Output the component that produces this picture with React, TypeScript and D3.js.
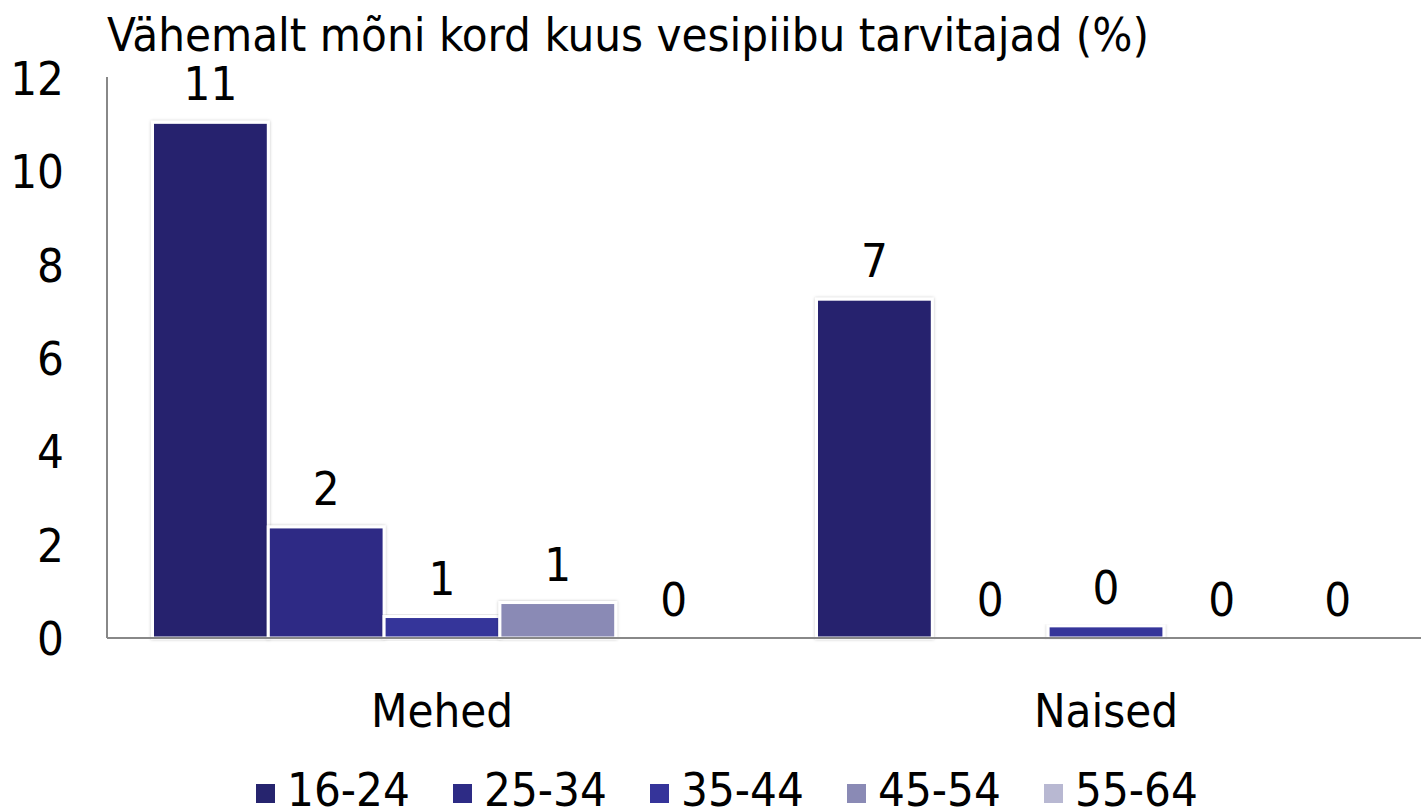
import React from 'react'
import { scaleBand, scaleLinear } from 'd3'

const groups = ['Mehed', 'Naised']
const ages = ['16-24', '25-34', '35-44', '45-54', '55-64']
const colors = ['#26246e', '#2d2b85', '#35349a', '#8a8ab5', '#b8b8d2']
// values per group, in the order of ages
const mehed = [11.05, 2.38, 0.46, 0.76, 0]
const naised = [7.26, 0, 0.26, 0, 0]
const mehedLabels = ['11', '2', '1', '1', '0']
const naisedLabels = ['7', '0', '0', '0', '0']
const yTicks = [0, 2, 4, 6, 8, 10, 12]

const font = '"DejaVu Sans Condensed", "DejaVu Sans", sans-serif'
const fs = 47

export default function App() {
  const W = 1421
  const H = 812
  const y = scaleLinear().domain([0, 12]).range([638, 78])
  const x0 = scaleBand().domain(groups).range([110, 1438])
  const x1 = scaleBand().domain(ages).range([0, x0.bandwidth()]).paddingInner(0).paddingOuter(0.367)

  const data = [
    { g: 'Mehed', vals: mehed, labels: mehedLabels },
    { g: 'Naised', vals: naised, labels: naisedLabels },
  ]

  return (
    <svg width={W} height={H} style={{ position: 'absolute', left: 0, top: 0, background: '#fff' }} fontFamily={font}>
      <defs>
        <filter id="sh" x="-10%" y="-10%" width="120%" height="120%">
          <feDropShadow dx="0" dy="0" stdDeviation="1.5" floodColor="#000" floodOpacity="0.25" />
        </filter>
      </defs>
      <text x={107} y={51} fontSize={fs} fill="#000">Vähemalt mõni kord kuus vesipiibu tarvitajad (%)</text>

      {yTicks.map(t => (
        <text key={t} x={64} y={y(t)} dy="0.36em" textAnchor="end" fontSize={fs} fill="#000">{t}</text>
      ))}

      {data.map(d => (
        <g key={d.g} transform={`translate(${x0(d.g)},0)`}>
          {d.vals.map((v, i) => (
            v > 0 ? (
              <rect key={i} x={x1(ages[i])} y={y(v)} width={x1.bandwidth()} height={y(0) - y(v)}
                fill={colors[i]} stroke="#fff" strokeWidth={3} filter="url(#sh)" />
            ) : null
          ))}
          {d.vals.map((v, i) => (
            <text key={'l' + i} x={(x1(ages[i]) as number) + x1.bandwidth() / 2} y={y(v) - 22}
              textAnchor="middle" fontSize={fs} fill="#000">{d.labels[i]}</text>
          ))}
          <text x={x0.bandwidth() / 2} y={727} textAnchor="middle" fontSize={fs} fill="#000">{d.g}</text>
        </g>
      ))}

      <line x1={107} x2={107} y1={77} y2={y(0)} stroke="#888" strokeWidth={2} />
      <line x1={107} x2={W} y1={y(0)} y2={y(0)} stroke="#888" strokeWidth={2} />

      {ages.map((a, i) => (
        <g key={a} transform={`translate(${256 + i * 197},0)`}>
          <rect x={0} y={784} width={19} height={19} fill={colors[i]} />
          <text x={31} y={806} fontSize={fs} fill="#000">{a}</text>
        </g>
      ))}
    </svg>
  )
}
